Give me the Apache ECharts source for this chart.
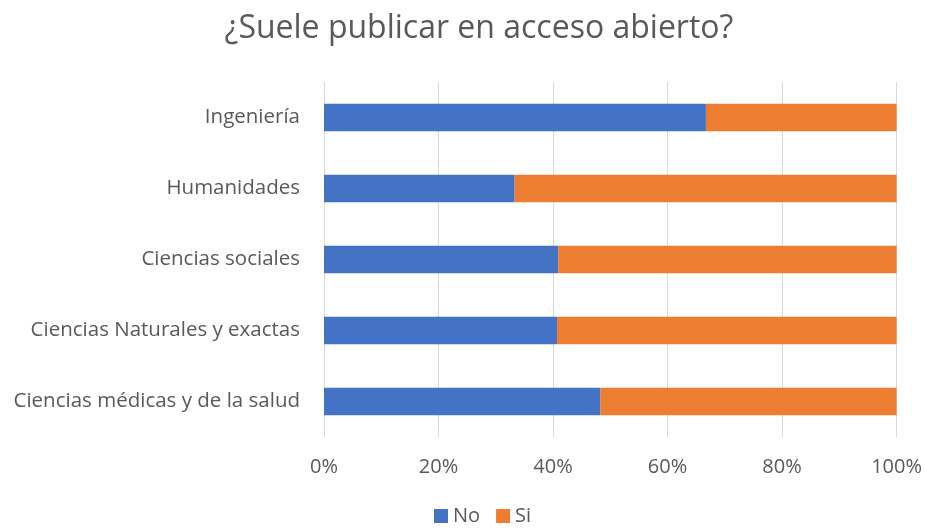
<!DOCTYPE html>
<html>
<head>
<meta charset="utf-8">
<script src="https://cdn.jsdelivr.net/npm/echarts@6/dist/echarts.min.js"></script>
<style>html,body{margin:0;padding:0;background:#fff;}#c{width:925px;height:529px;}</style>
</head>
<body>
<div id="c"></div>
<script>
const categories = ["Ciencias médicas y de la salud", "Ciencias Naturales y exactas", "Ciencias sociales", "Humanidades", "Ingeniería"];
const noValues = [48.3, 40.7, 40.9, 33.3, 66.7];
const siValues = [51.7, 59.3, 59.1, 66.7, 33.3];
const xTicks = [0, 20, 40, 60, 80, 100];

const font = "'Open Sans', sans-serif";
const chart = echarts.init(document.getElementById('c'));
chart.setOption({
  animation: false,
  title: {
    text: '¿Suele publicar en acceso abierto?',
    left: 474, top: 8, textAlign: 'center',
    textStyle: { fontFamily: font, fontSize: 32, fontWeight: 'normal', color: '#595959' }
  },
  legend: {
    bottom: -2, left: 429,
    itemWidth: 14, itemHeight: 14, itemGap: 16,
    icon: 'rect',
    textStyle: { fontFamily: font, fontSize: 20, color: '#595959' },
    data: ['No', 'Si']
  },
  grid: { left: 324, right: 27, top: 82, bottom: 92, containLabel: false },
  xAxis: {
    type: 'value', min: 0, max: 100, interval: 20,
    axisLine: { show: false }, axisTick: { show: false },
    splitLine: { lineStyle: { color: '#d9d9d9', width: 1 } },
    axisLabel: { formatter: v => xTicks.includes(v) ? v + '%' : '', fontFamily: font, fontSize: 20, color: '#595959', margin: 20 }
  },
  yAxis: {
    type: 'category', data: categories,
    axisLine: { show: false }, axisTick: { show: false },
    axisLabel: { fontFamily: font, fontSize: 20.5, color: '#595959', margin: 24 }
  },
  series: [
    { name: 'No', type: 'bar', stack: 't', data: noValues, barCategoryGap: '61%', itemStyle: { color: '#4472c4' } },
    { name: 'Si', type: 'bar', stack: 't', data: siValues, barCategoryGap: '61%', itemStyle: { color: '#ed7d31' } }
  ]
});
</script>
</body>
</html>
